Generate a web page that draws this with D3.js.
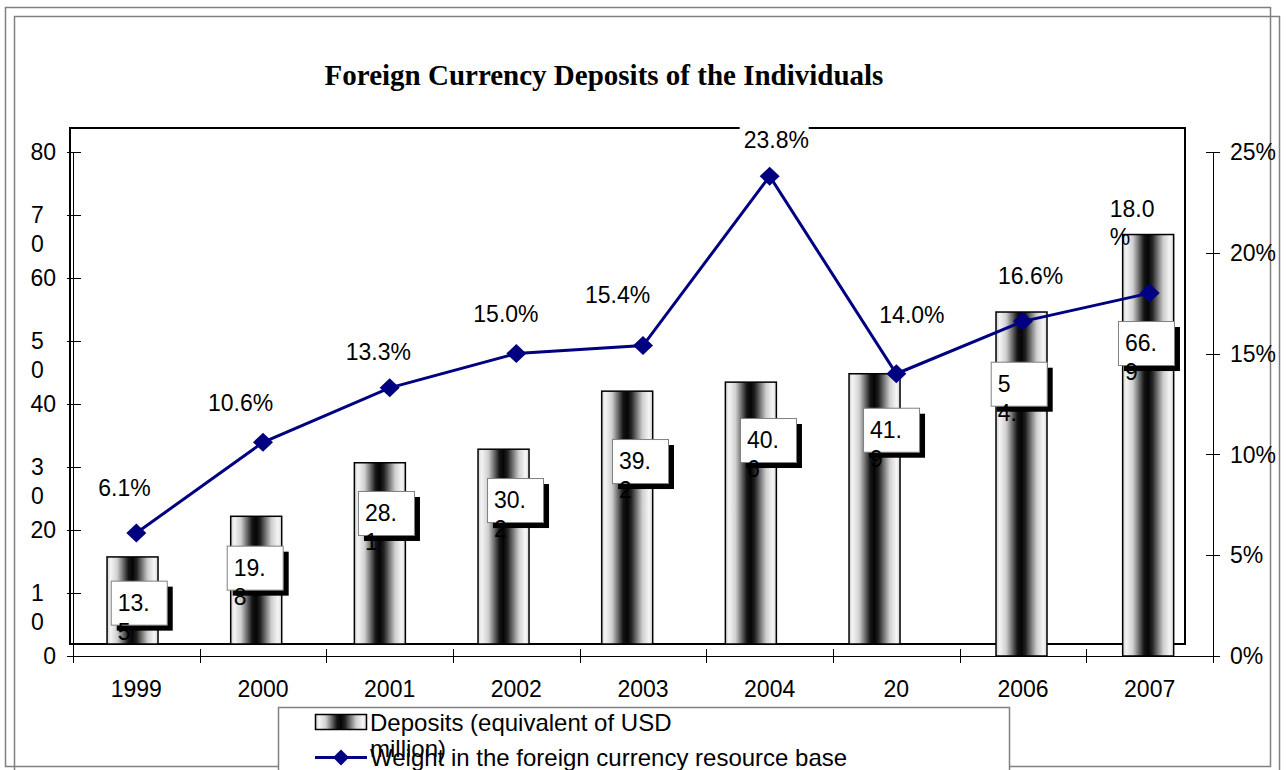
<!DOCTYPE html>
<html><head><meta charset="utf-8">
<script src="https://cdn.jsdelivr.net/npm/d3@7"></script>
<style>body{margin:0;background:#fff} svg{display:block}</style>
</head><body>
<svg id="c" width="1287" height="770"></svg>
<script>
// ---- data ----
const categories = ["1999","2000","2001","2002","2003","2004","2005","2006","2007"];
const tickLabels = ["1999","2000","2001","2002","2003","2004","20","2006","2007"];
const deposits = [13.5, 19.8, 28.1, 30.2, 39.2, 40.6, 41.9, 54.6, 66.9];
const weight = [6.1, 10.6, 13.3, 15.0, 15.4, 23.8, 14.0, 16.6, 18.0];
const leftTicks = [0, 10, 20, 30, 40, 50, 60, 70, 80];
const leftTickLabels = ["0", "1\n0", "20", "3\n0", "40", "5\n0", "60", "7\n0", "80"];
const rightTicks = [0, 5, 10, 15, 20, 25];
const rightTickLabels = ["0%", "5%", "10%", "15%", "20%", "25%"];
const title = "Foreign Currency Deposits of the Individuals";
const legendLabels = ["Deposits (equivalent of USD\nmillion)", "Weight in the foreign currency resource base"];

// ---- layout / label placement (not data) ----
const barFrame = ["plot","plot","plot","plot","plot","plot","plot","axis","axis"];
const barLabelBreak = [3,3,3,3,3,3,3,1,3];
const barLabelDx = [-25.6,-36.3,-31.7,-29.3,-31,-29.7,-33.3,-32.3,-31.7];
const barLabelDy = [9.7,14.4,12,12.3,30,17.8,15.7,49.7,86.5];
const pctBreak = [9,9,9,9,9,9,9,9,4];
const pctDx = [-38,-55,-44,-43,-58,-26,-17,-25,-40];
const pctDy = [-45,-40,-36,-40,-51,-36,-59,-46,-84];

const svg = d3.select("#c");
const SANS = "'Liberation Sans', Arial, sans-serif";
const FS = 23;

// scales
const xA = d3.scaleBand().domain(categories).range([73, 1213]);
const yL = d3.scaleLinear().domain([0, 80]).range([656, 152]);
const yR = d3.scaleLinear().domain([0, 25]).range([656, 152]);
const xP = d3.scaleBand().domain(categories).range([70.7, 1183.7]);
const yP = d3.scaleLinear().domain([0, 80]).range([644, 128]);
const cx = c => xA(c) + xA.bandwidth() / 2;

// gradient
const defs = svg.append("defs");
const g = defs.append("linearGradient").attr("id", "barGrad").attr("x1", "0").attr("x2", "1").attr("y1", "0").attr("y2", "0");
[[0,"#cfcfcf"],[0.07,"#f4f4f4"],[0.2,"#d0d0d0"],[0.42,"#151515"],[0.5,"#050505"],[0.58,"#222"],[0.8,"#cfcfcf"],[0.93,"#f6f6f6"],[1,"#d5d5d5"]]
  .forEach(([o,c]) => g.append("stop").attr("offset", o).attr("stop-color", c));

svg.append("rect").attr("width", 1287).attr("height", 770).attr("fill", "#fff");

// outer borders
svg.append("rect").attr("x", 5.5).attr("y", 7.5).attr("width", 1265).attr("height", 759)
  .attr("fill", "none").attr("stroke", "#808080").attr("stroke-width", 1.5);
svg.append("rect").attr("x", 14.5).attr("y", 16.5).attr("width", 1265).attr("height", 800)
  .attr("fill", "none").attr("stroke", "#808080").attr("stroke-width", 1.5);

// title
svg.append("text").attr("x", 604).attr("y", 85).attr("text-anchor", "middle")
  .attr("font-family", "'Liberation Serif', 'Times New Roman', serif").attr("font-weight", "bold")
  .attr("font-size", 29).text(title);

// plot area border
svg.append("rect").attr("x", 70).attr("y", 128).attr("width", 1115).attr("height", 516)
  .attr("fill", "none").attr("stroke", "#000").attr("stroke-width", 2);

// bars
const bw = 51;
svg.append("g").selectAll("rect").data(categories).join("rect")
  .attr("x", (c, i) => barFrame[i] === "plot" ? xP(c) + xP.bandwidth()/2 - bw/2 : cx(c) - 1.5 - bw/2)
  .attr("y", (c, i) => barFrame[i] === "plot" ? yP(deposits[i]) : yL(deposits[i]))
  .attr("width", bw)
  .attr("height", (c, i) => barFrame[i] === "plot" ? yP(0) - yP(deposits[i]) : yL(0) - yL(deposits[i]))
  .attr("fill", "url(#barGrad)").attr("stroke", "#000").attr("stroke-width", 1.5);

// axes
const axG = svg.append("g").attr("stroke", "#000").attr("stroke-width", 1);
axG.append("line").attr("x1", 73.5).attr("x2", 73.5).attr("y1", yL(80)).attr("y2", yL(0));
axG.append("line").attr("x1", 1213.5).attr("x2", 1213.5).attr("y1", yR(25)).attr("y2", yR(0));
axG.append("line").attr("x1", 67).attr("x2", 1220).attr("y1", 656.5).attr("y2", 656.5);
axG.selectAll(".lt").data(leftTicks).join("line").attr("x1", 67).attr("x2", 81)
  .attr("y1", d => Math.round(yL(d)) + 0.5).attr("y2", d => Math.round(yL(d)) + 0.5);
axG.selectAll(".rt").data(rightTicks).join("line").attr("x1", 1206).attr("x2", 1220)
  .attr("y1", d => Math.round(yR(d)) + 0.5).attr("y2", d => Math.round(yR(d)) + 0.5);
const bounds = categories.map(c => xA(c)).concat([xA.range()[1]]);
axG.selectAll(".xt").data(bounds).join("line").attr("x1", d => Math.round(d) + 0.5).attr("x2", d => Math.round(d) + 0.5)
  .attr("y1", 649).attr("y2", 663);

// left tick labels
const ltl = svg.append("g").attr("font-family", SANS).attr("font-size", FS).attr("fill", "#000");
leftTicks.forEach((t, i) => {
  const lines = leftTickLabels[i].split("\n");
  if (lines.length === 1) {
    ltl.append("text").attr("x", 56).attr("y", yL(t)).attr("dy", "0.36em").attr("text-anchor", "end").text(lines[0]);
  } else {
    lines.forEach((s, k) => ltl.append("text").attr("x", 31).attr("y", yL(t) + k * 29).attr("dy", "0.36em").text(s));
  }
});
// right tick labels
svg.append("g").attr("font-family", SANS).attr("font-size", FS).selectAll("text").data(rightTicks).join("text")
  .attr("x", 1230).attr("y", d => yR(d)).attr("dy", "0.36em").text((d, i) => rightTickLabels[i]);
// x labels
svg.append("g").attr("font-family", SANS).attr("font-size", FS).attr("text-anchor", "middle")
  .selectAll("text").data(categories).join("text")
  .attr("x", c => cx(c)).attr("y", 689).attr("dy", "0.36em").text((c, i) => tickLabels[i]);

// line
const line = d3.line().x((d, i) => cx(categories[i])).y(d => yR(d));
svg.append("path").datum(weight).attr("d", line).attr("fill", "none").attr("stroke", "#000080").attr("stroke-width", 3);
const diamond = (h, v) => `M0,${-v}L${h},0L0,${v}L${-h},0Z`;
svg.append("g").selectAll("path").data(weight).join("path")
  .attr("transform", (d, i) => `translate(${cx(categories[i])},${yR(d)})`)
  .attr("d", diamond(10, 9.5)).attr("fill", "#000080");

// bar data labels
const bl = svg.append("g").attr("font-family", SANS).attr("font-size", FS);
deposits.forEach((v, i) => {
  const left = cx(categories[i]) + barLabelDx[i];
  const top = yL(v) + barLabelDy[i];
  bl.append("rect").attr("x", left + 6).attr("y", top + 6).attr("width", 56).attr("height", 44).attr("fill", "#000");
  bl.append("rect").attr("x", left + 0.5).attr("y", top + 0.5).attr("width", 56).attr("height", 44)
    .attr("fill", "#fff").attr("stroke", "#808080").attr("stroke-width", 1);
  const s = v.toFixed(1);
  const b = barLabelBreak[i];
  const lines = [s.slice(0, b), s.slice(b, b + 2)];
  lines.forEach((t, k) => bl.append("text").attr("x", left + 7).attr("y", top + 22 + k * 29).attr("dy", "0.36em").text(t));
});

// percent labels
const pl = svg.append("g").attr("font-family", SANS).attr("font-size", FS);
weight.forEach((v, i) => {
  const s = v.toFixed(1) + "%";
  const b = pctBreak[i];
  const lines = s.length > b ? [s.slice(0, b), s.slice(b)] : [s];
  const x = cx(categories[i]) + pctDx[i];
  const y = yR(v) + pctDy[i];
  if (lines.length === 1) {
    const w = s.length * 12.2 + 8;
    pl.append("rect").attr("x", x - 4).attr("y", y - 15).attr("width", w).attr("height", 30).attr("fill", "#fff");
  }
  lines.forEach((t, k) => pl.append("text").attr("x", x).attr("y", y + k * 28).attr("dy", "0.36em").text(t));
});

// legend
const lg = svg.append("g");
lg.append("rect").attr("x", 278.5).attr("y", 707.5).attr("width", 731).attr("height", 100)
  .attr("fill", "#fff").attr("stroke", "#808080").attr("stroke-width", 1.5);
lg.append("rect").attr("x", 315.5).attr("y", 714.5).attr("width", 51).attr("height", 15)
  .attr("fill", "url(#barGrad)").attr("stroke", "#000").attr("stroke-width", 1.5);
const lt = lg.append("g").attr("font-family", SANS).attr("font-size", 24);
legendLabels[0].split("\n").forEach((t, k) => lt.append("text").attr("x", 370).attr("y", 722 + k * 26).attr("dy", "0.36em").text(t));
lg.append("line").attr("x1", 315).attr("x2", 367).attr("y1", 757.5).attr("y2", 757.5).attr("stroke", "#000080").attr("stroke-width", 3);
lg.append("path").attr("transform", "translate(341,757.5)").attr("d", diamond(8, 8)).attr("fill", "#000080");
lt.append("text").attr("x", 370).attr("y", 757).attr("dy", "0.36em").text(legendLabels[1]);
</script>
</body></html>
